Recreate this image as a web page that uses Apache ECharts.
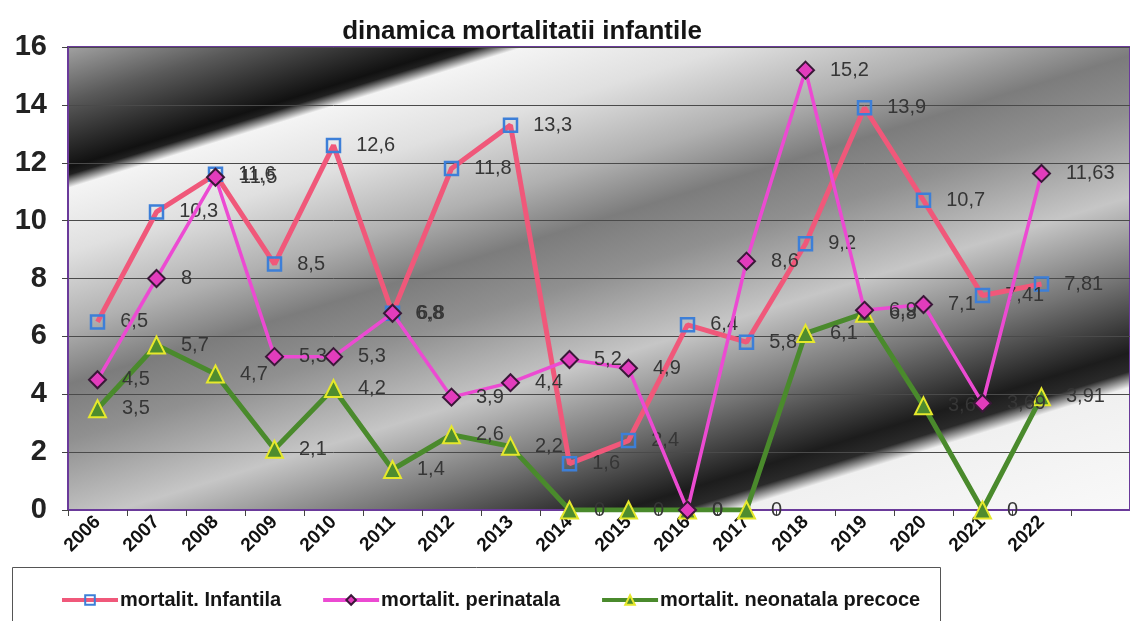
<!DOCTYPE html>
<html>
<head>
<meta charset="utf-8">
<title>dinamica mortalitatii infantile</title>
<script src="https://cdn.jsdelivr.net/npm/echarts@6/dist/echarts.min.js"></script>
<style>
  html, body { margin: 0; padding: 0; background: #fff; }
  #chart { width: 1130px; height: 621px; }
</style>
</head>
<body>
<div id="chart"></div>
<script>
var years = ['2006', '2007', '2008', '2009', '2010', '2011', '2012', '2013', '2014',
  '2015', '2016', '2017', '2018', '2019', '2020', '2021', '2022'];
var infantila = [6.5, 10.3, 11.6, 8.5, 12.6, 6.8, 11.8, 13.3, 1.6, 2.4, 6.4, 5.8, 9.2, 13.9, 10.7, 7.41, 7.81];
var perinatala = [4.5, 8, 11.5, 5.3, 5.3, 6.8, 3.9, 4.4, 5.2, 4.9, 0, 8.6, 15.2, 6.9, 7.1, 3.69, 11.63];
var neonatala = [3.5, 5.7, 4.7, 2.1, 4.2, 1.4, 2.6, 2.2, 0, 0, 0, 0, 6.1, 6.8, 3.6, 0, 3.91];
var yTicks = [0, 2, 4, 6, 8, 10, 12, 14, 16];

var chart = echarts.init(document.getElementById('chart'));
var FONT = 'Liberation Sans, Arial, sans-serif';

// the original plot has one more (empty) slot after 2022, cut at the page edge
var axisCats = years.concat(['']);

function commaLabel(p){
  return String(p.value).replace('.', ',');
}

function valueLabel(){
  return {
    show: true, position: 'right', distance: 15,
    fontFamily: FONT, fontSize: 20, color: '#363636',
    formatter: commaLabel
  }
}

// diagonal grey bands behind the plot, like the scanned picture
var plotBg = {
  type: 'linear', global: true,
  x: 0, y: 0, x2: 266, y2: 860,
  colorStops: [
    {offset: 0.07, color: '#a4a4a4'},
    {offset: 0.13, color: '#5a5a5a'},
    {offset: 0.2, color: '#111'},
    {offset: 0.208, color: '#202020'},
    {offset: 0.222, color: '#f4f4f4'},
    {offset: 0.29, color: '#e0e0e0'},
    {offset: 0.37, color: '#b0b0b0'},
    {offset: 0.43, color: '#7c7c7c'},
    {offset: 0.49, color: '#909090'},
    {offset: 0.58, color: '#c6c6c6'},
    {offset: 0.665, color: '#747474'},
    {offset: 0.745, color: '#1c1c1c'},
    {offset: 0.765, color: '#2a2a2a'},
    {offset: 0.782, color: '#f0f0f0'},
    {offset: 1, color: '#ffffff'}
  ]
};

var option = {
  animation: false,
  backgroundColor: '#fff',
  title: {
    text: 'dinamica mortalitatii infantile',
    left: 517,
    textAlign: 'center',
    top: 14,
    textStyle: {fontFamily: FONT, fontSize: 26, fontWeight: 'bold', color: '#151515'}
  },
  graphic: [{
    type: 'rect',
    left: 12, top: 567,
    shape: {width: 928, height: 70},
    style: {fill: '#fff', stroke: '#555', lineWidth: 1},
    z: 0
  }],
  legend: {
    left: 55,
    top: 585,
    itemWidth: 56,
    itemHeight: 12,
    itemGap: 40,
    lineStyle: {width: 4},
    textStyle: {fontFamily: FONT, fontSize: 20, fontWeight: 'bold', color: '#151515', padding: [0, 0, 0, -3]},
    data: ['mortalit. Infantila', 'mortalit. perinatala', 'mortalit. neonatala precoce']
  },
  grid: {
    show: true,
    left: 68,
    top: 47,
    right: -8,
    bottom: 111,
    backgroundColor: plotBg,
    borderColor: '#6a3a9a',
    borderWidth: 2
  },
  xAxis: {
    type: 'category',
    data: axisCats,
    boundaryGap: true,
    axisLine: {lineStyle: {color: '#6a3a9a', width: 2}},
    axisTick: {show: true, length: 6, lineStyle: {color: '#444'}},
    axisLabel: {
      interval: 0,
      rotate: 45,
      margin: 9,
      fontFamily: FONT,
      fontSize: 19,
      fontWeight: 'bold',
      color: '#111'
    },
    splitLine: {show: false}
  },
  yAxis: {
    type: 'value',
    min: yTicks[0],
    max: yTicks[yTicks.length - 1],
    interval: 2,
    axisLine: {show: true, lineStyle: {color: '#6a3a9a', width: 2}},
    axisTick: {show: true, length: 6, lineStyle: {color: '#444'}},
    axisLabel: {
      margin: 21,
      fontFamily: FONT,
      fontSize: 29,
      fontWeight: 'bold',
      color: '#222'
    },
    splitLine: {lineStyle: {color: '#4a4a4a', width: 1}}
  },
  series: [
    {
      name: 'mortalit. Infantila',
      type: 'line',
      data: infantila,
      symbol: 'rect',
      symbolSize: 13,
      z: 3,
      lineStyle: {color: '#f0587a', width: 5},
      itemStyle: {color: 'rgba(0,0,0,0)', borderColor: '#3d7fd8', borderWidth: 2.5},
      label: valueLabel()
    },
    {
      name: 'mortalit. perinatala',
      type: 'line',
      data: perinatala,
      symbol: 'diamond',
      symbolSize: 17,
      z: 4,
      lineStyle: {color: '#ec4ad2', width: 3.5},
      itemStyle: {color: '#e23cbc', borderColor: '#3a1838', borderWidth: 2},
      label: valueLabel()
    },
    {
      name: 'mortalit. neonatala precoce',
      type: 'line',
      data: neonatala,
      symbol: 'triangle',
      symbolSize: 17,
      z: 2,
      lineStyle: {color: '#4a8a2c', width: 5},
      itemStyle: {color: '#4e8c2e', borderColor: '#e6e82c', borderWidth: 2},
      label: valueLabel()
    }
  ]
};

chart.setOption(option);
</script>
</body>
</html>
